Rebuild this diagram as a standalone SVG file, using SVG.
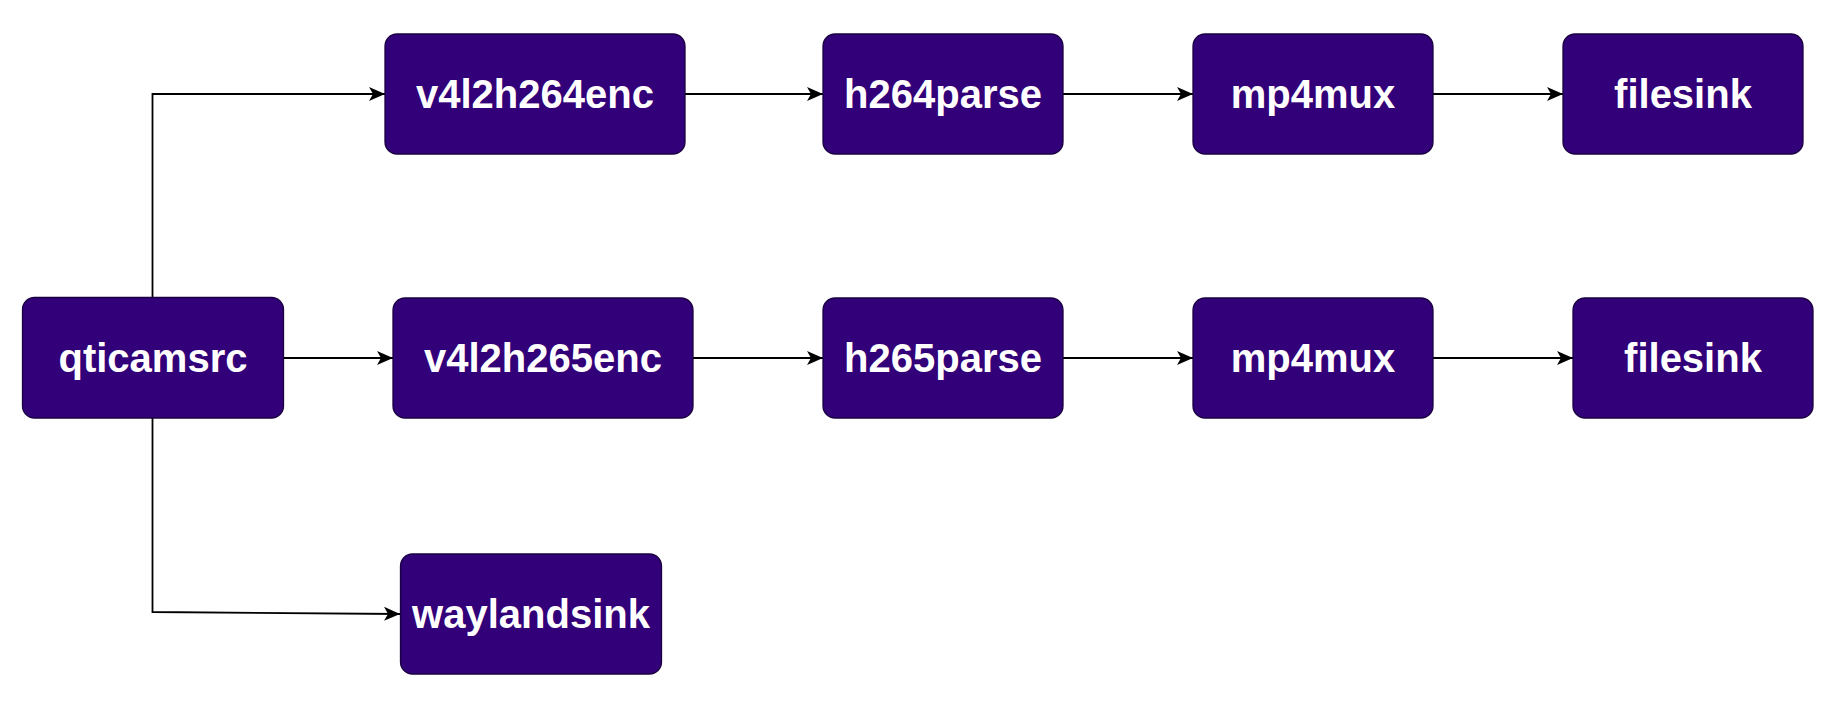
<svg xmlns="http://www.w3.org/2000/svg" width="1834" height="713" viewBox="0 0 1834 713">
  <style>
    .box { fill: #320078; stroke: #1a0040; stroke-width: 1.3; }
    .lbl { fill: #ffffff; font-family: "Liberation Sans", Arial, sans-serif; font-weight: bold; font-size: 40px; text-anchor: middle; }
    .edge { fill: none; stroke: #000000; stroke-width: 1.8; marker-end: url(#arrow); }
  </style>
  <defs>
    <marker id="arrow" markerUnits="userSpaceOnUse" markerWidth="17" markerHeight="15" viewBox="0 0 17 15" refX="16" refY="7.5" orient="auto">
      <path d="M0,0.5 L16,7.5 L0,14.5 L4,7.5 Z" fill="#000000"/>
    </marker>
  </defs>
  <rect width="1834" height="713" fill="#ffffff"/>

  <g id="connectors">
    <path class="edge" d="M152.5,297 L152.5,94 L385,94"/>
    <path class="edge" d="M283.5,358 L393,358"/>
    <path class="edge" d="M152.5,418 L152.5,612 L400,614"/>
    <path class="edge" d="M685,94 L823,94"/>
    <path class="edge" d="M1063,94 L1193,94"/>
    <path class="edge" d="M1433,94 L1563,94"/>
    <path class="edge" d="M693,358 L823,358"/>
    <path class="edge" d="M1063,358 L1193,358"/>
    <path class="edge" d="M1433,358 L1573,358"/>
  </g>

  <g id="qticamsrc">
    <rect class="box" x="22.5" y="297.5" width="261" height="120.5" rx="12" ry="12"/>
    <text class="lbl" x="153" y="372">qticamsrc</text>
  </g>
  <g id="v4l2h264enc">
    <rect class="box" x="385" y="34" width="300" height="120" rx="12" ry="12"/>
    <text class="lbl" x="535" y="108">v4l2h264enc</text>
  </g>
  <g id="h264parse">
    <rect class="box" x="823" y="34" width="240" height="120" rx="12" ry="12"/>
    <text class="lbl" x="943" y="108">h264parse</text>
  </g>
  <g id="mp4mux1">
    <rect class="box" x="1193" y="34" width="240" height="120" rx="12" ry="12"/>
    <text class="lbl" x="1313" y="108">mp4mux</text>
  </g>
  <g id="filesink1">
    <rect class="box" x="1563" y="34" width="240" height="120" rx="12" ry="12"/>
    <text class="lbl" x="1683" y="108">filesink</text>
  </g>
  <g id="v4l2h265enc">
    <rect class="box" x="393" y="298" width="300" height="120" rx="12" ry="12"/>
    <text class="lbl" x="543" y="372">v4l2h265enc</text>
  </g>
  <g id="h265parse">
    <rect class="box" x="823" y="298" width="240" height="120" rx="12" ry="12"/>
    <text class="lbl" x="943" y="372">h265parse</text>
  </g>
  <g id="mp4mux2">
    <rect class="box" x="1193" y="298" width="240" height="120" rx="12" ry="12"/>
    <text class="lbl" x="1313" y="372">mp4mux</text>
  </g>
  <g id="filesink2">
    <rect class="box" x="1573" y="298" width="240" height="120" rx="12" ry="12"/>
    <text class="lbl" x="1693" y="372">filesink</text>
  </g>
  <g id="waylandsink">
    <rect class="box" x="400.5" y="554" width="261" height="120" rx="12" ry="12"/>
    <text class="lbl" x="531" y="628">waylandsink</text>
  </g>
</svg>
